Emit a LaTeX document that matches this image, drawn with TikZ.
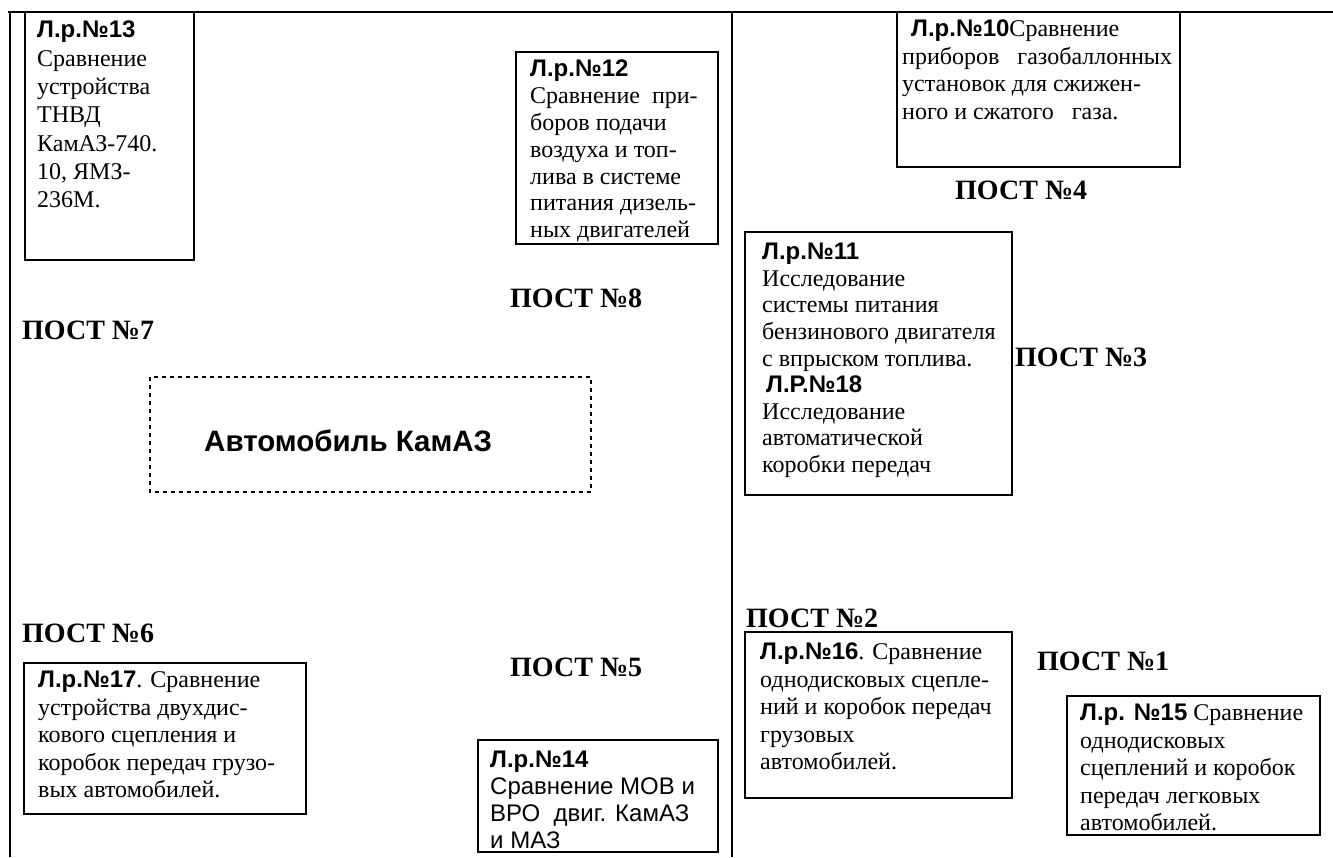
\documentclass[tikz,border=0pt]{standalone}
\usepackage{fontspec}
\setmainfont{Liberation Serif}
\setsansfont{Liberation Sans}
\newcommand{\lrnum}[1]{{\sffamily\bfseries #1}}

\begin{document}
\begin{tikzpicture}[x=1pt,y=-1pt,
  frame/.style={draw=black,line width=1.8pt},
  zone/.style={draw=black,line width=1.8pt,dash pattern=on 4pt off 4pt},
  txt/.style={anchor=north west,align=left,inner sep=0pt,font=\fontsize{24}{27.5}\selectfont},
  post/.style={anchor=west,inner sep=0pt,font=\fontsize{28}{30}\selectfont\bfseries}]
\useasboundingbox (0,0) rectangle (1333,857);

% outer lines of the hall
\draw[frame] (8,12) -- (1333,12);
\draw[frame] (10,12) -- (10,857);
\draw[frame] (732,12) -- (732,857);

% left half
\draw[frame] (25,12) rectangle (194,260);
\node[txt,font=\fontsize{24}{28.3}\selectfont] (lr13) at (37,21) {\lrnum{Л.р.№13}\\Сравнение\\устройства\\ТНВД\\КамАЗ-740.\\10, ЯМЗ-\\236М.};
\draw[frame] (516,52) rectangle (718,244);
\node[txt,font=\fontsize{24}{26.8}\selectfont] (lr12) at (530,60) {\lrnum{Л.р.№12}\\Сравнение\ \ при-\\боров подачи\\воздуха и топ-\\лива в системе\\питания дизель-\\ных двигателей};
\node[post] (p8) at (510,298) {ПОСТ №8};
\node[post] (p7) at (22,330) {ПОСТ №7};
\draw[zone] (150,377) rectangle (591,492);
\node[anchor=west,inner sep=0pt,font=\fontsize{29.5}{32}\selectfont\sffamily\bfseries] (kamaz) at (204,441) {Автомобиль КамАЗ};
\node[post] (p6) at (22,633) {ПОСТ №6};
\draw[frame] (24,663) rectangle (306,814);
\node[txt] (lr17) at (38,671) {\lrnum{Л.р.№17}. Сравнение\\устройства двухдис-\\кового сцепления и\\коробок передач грузо-\\вых автомобилей.};
\node[post] (p5) at (510,667) {ПОСТ №5};
\draw[frame] (478,740) rectangle (718,852);
\node[txt,font=\fontsize{24}{27}\selectfont\sffamily] (lr14) at (490,751) {\lrnum{Л.р.№14}\\Сравнение МОВ и\\ВРО\ \ двиг. КамАЗ\\и МАЗ};

% right half
\draw[frame] (897,12) rectangle (1180,167);
\node[txt,font=\fontsize{24}{27.5}\selectfont] (lr10) at (902,20) {\hspace*{9pt}\lrnum{Л.р.№10}Сравнение\\приборов\hspace{18pt}газобаллонных\\установок для сжижен-\\ного и сжатого\ \ \ газа.};
\node[post] (p4) at (955,190) {ПОСТ №4};
\draw[frame] (745,232) rectangle (1012,495);
\node[txt,font=\fontsize{24}{26.6}\selectfont] (lr11) at (762,243) {\lrnum{Л.р.№11}\\Исследование\\системы питания\\бензинового двигателя\\с впрыском топлива.\\\hspace*{4pt}\lrnum{Л.Р.№18}\\Исследование\\автоматической\\коробки передач};
\node[post] (p3) at (1015,357) {ПОСТ №3};
\node[post] (p2) at (746,618) {ПОСТ №2};
\draw[frame] (745,632) rectangle (1012,798);
\node[txt] (lr16) at (760,643) {\lrnum{Л.р.№16}. Сравнение\\однодисковых сцепле-\\ний и коробок передач\\грузовых\\автомобилей.};
\node[post] (p1) at (1037,661) {ПОСТ №1};
\draw[frame] (1067,696) rectangle (1320,835);
\node[txt] (lr15) at (1080,704) {\lrnum{Л.р. №15} Сравнение\\однодисковых\\сцеплений и коробок\\передач легковых\\автомобилей.};
\end{tikzpicture}
\end{document}
